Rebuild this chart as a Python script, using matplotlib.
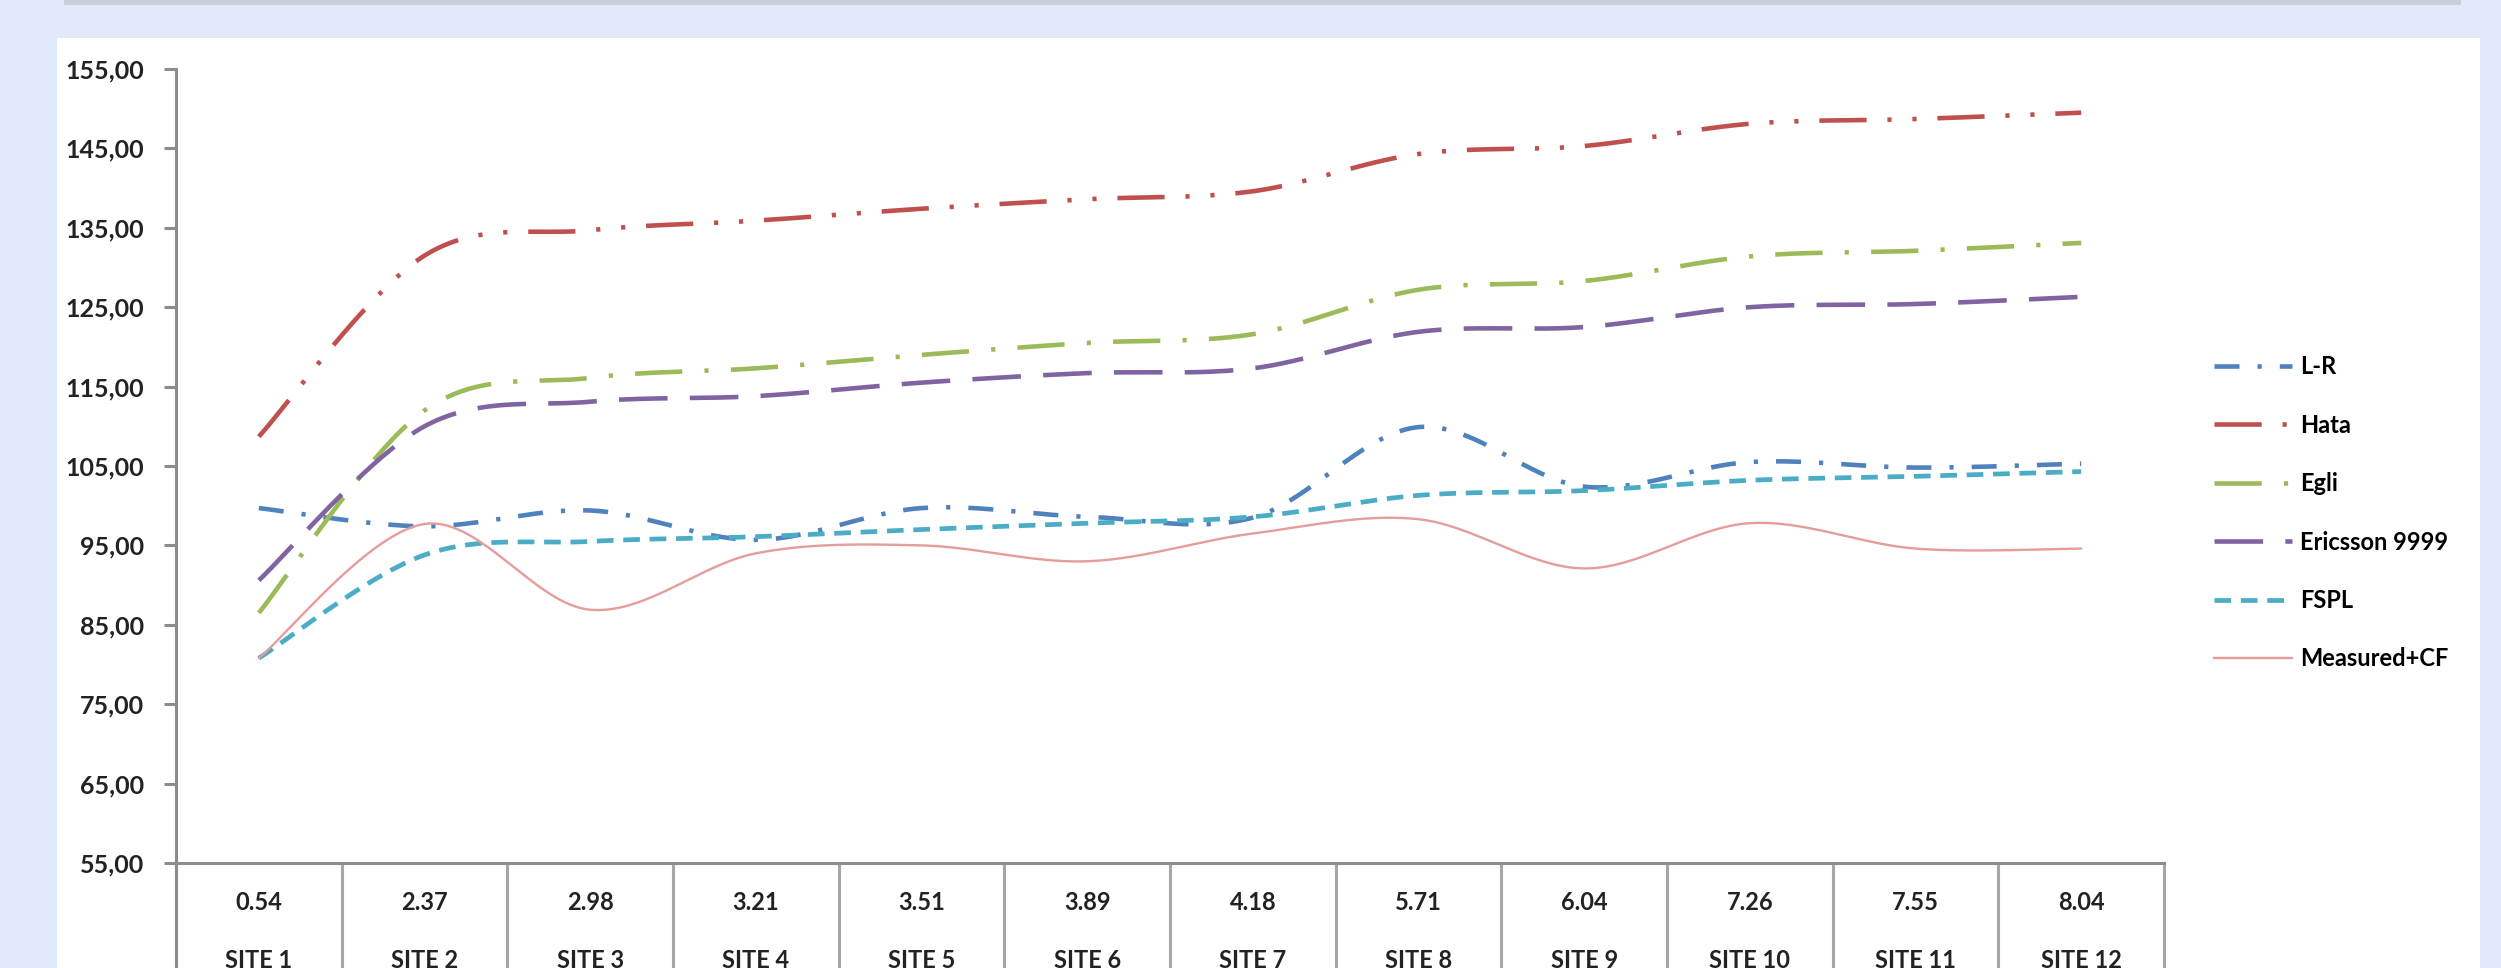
import numpy as np
import matplotlib
matplotlib.use("Agg")
import matplotlib.pyplot as plt
from matplotlib.lines import Line2D
from matplotlib.patches import Rectangle
import matplotlib.transforms as mtransforms

plt.rcParams['font.family'] = ['Lato', 'DejaVu Sans']
plt.rcParams['lines.scale_dashes'] = False

# data
distances = ["0.54", "2.37", "2.98", "3.21", "3.51", "3.89", "4.18", "5.71", "6.04", "7.26", "7.55", "8.04"]
sites = ["SITE 1", "SITE 2", "SITE 3", "SITE 4", "SITE 5", "SITE 6", "SITE 7", "SITE 8",
         "SITE 9", "SITE 10", "SITE 11", "SITE 12"]
lr = [99.7, 97.4, 99.4, 95.7, 99.7, 98.6, 98.5, 109.9, 102.4, 105.5, 104.8, 105.3]
hata = [108.7, 131.5, 134.7, 135.9, 137.4, 138.6, 139.6, 144.3, 145.3, 148.1, 148.7, 149.5]
egli = [86.5, 112.0, 116.1, 117.3, 119.0, 120.5, 121.6, 127.2, 128.3, 131.4, 132.1, 133.1]
ericsson = [90.6, 110.0, 113.1, 113.8, 115.5, 116.7, 117.3, 121.9, 122.5, 125.0, 125.4, 126.3]
fspl = [80.8, 93.8, 95.5, 96.1, 97.0, 97.8, 98.6, 101.3, 101.9, 103.2, 103.7, 104.3]
measured = [80.8, 97.7, 86.9, 94.0, 95.0, 93.0, 96.5, 98.3, 92.1, 97.8, 94.6, 94.6]
yticks = [55, 65, 75, 85, 95, 105, 115, 125, 135, 145, 155]


def smooth(vals, n=40):
    # excel style smoothed line (bezier through the points)
    pts = np.column_stack([np.arange(len(vals)) + 0.5, vals])
    P = np.vstack([pts[0], pts, pts[-1]])
    t = np.linspace(0, 1, n)[:, None]
    out = []
    for i in range(len(pts) - 1):
        p0, p1, p2, p3 = P[i], P[i+1], P[i+2], P[i+3]
        c1 = p1 + (p2 - p0) / 6
        c2 = p2 - (p3 - p1) / 6
        seg = (1-t)**3*p1 + 3*(1-t)**2*t*c1 + 3*(1-t)*t**2*c2 + t**3*p2
        out.append(seg if i == 0 else seg[1:])
    s = np.vstack(out)
    return s[:, 0], s[:, 1]


W, H = 2501, 968
fig = plt.figure(figsize=(W/100, H/100), dpi=100)
fig.patch.set_facecolor('#E1EAFB')
fig.patches.append(Rectangle((57/W, 0), (2480-57)/W, 1-38/H, transform=fig.transFigure,
                             facecolor='white', edgecolor='none', zorder=-10))
fig.patches.append(Rectangle((64/W, 1-5/H), (2461-64)/W, 5/H, transform=fig.transFigure,
                             facecolor='#C9CFD9', edgecolor='none', zorder=-10))

ax = fig.add_axes([176/W, (H-863)/H, (2164-176)/W, 794/H])
ax.set_facecolor('none')

series = [
    ("L-R", lr, '#4F81BD', (0, (18, 13, 3, 13)), 3.3),
    ("Hata", hata, '#C0504D', (0, (34, 15, 3, 15, 3, 15)), 3.3),
    ("Egli", egli, '#9BBB59', (0, (34, 16, 3, 16)), 3.3),
    ("Ericsson 9999", ericsson, '#8064A2', (0, (35, 16)), 3.3),
    ("FSPL", fspl, '#4BACC6', (0, (12, 7)), 3.4),
    ("Measured+CF", measured, '#E59C9A', '-', 1.7),
]
handles = []
for name, vals, col, ls, lw in series:
    sx, sy = smooth(vals)
    ax.plot(sx, sy, color=col, linestyle=ls, lw=lw, solid_capstyle='round')
    handles.append(Line2D([], [], color=col, linestyle=ls, lw=lw))

ax.set_xlim(0, 12)
ax.set_ylim(55, 155)
ax.set_yticks(yticks)
ax.set_yticklabels([f"{v},00" for v in yticks], fontsize=18, fontweight='bold', color='#222222')
ax.set_xticks([])
for s in ['top', 'right']:
    ax.spines[s].set_visible(False)
for s in ['left', 'bottom']:
    ax.spines[s].set_color('#8C8C8C')
    ax.spines[s].set_linewidth(2.2)
ax.tick_params(axis='y', direction='out', length=9, width=2.2, color='#8C8C8C', pad=14)

# category boxes under the axis
trans = mtransforms.blended_transform_factory(ax.transData, ax.transAxes)
low = -(H - 863) / 794
for i in range(13):
    ax.plot([i, i], [0, low], transform=trans, color='#A6A6A6', lw=2.2, clip_on=False)
ax.plot([0, 0], [0, low], transform=trans, color='#8C8C8C', lw=2.2, clip_on=False)
for i in range(12):
    ax.text(i + 0.5, -(903 - 863) / 794, distances[i], transform=trans, ha='center', va='center',
            fontsize=17, fontweight='bold', color='#222222')
    ax.text(i + 0.5, -(961 - 863) / 794, sites[i], transform=trans, ha='center', va='center',
            fontsize=17, fontweight='bold', color='#222222')

fig.legend(handles, [s[0] for s in series], loc='upper left',
           bbox_to_anchor=(2193/W, 1 - 334/H), frameon=False,
           handlelength=3.3, handletextpad=0.35, labelspacing=1.5,
           prop={'weight': 'bold', 'size': 17})

fig.savefig("out.png", dpi=100, facecolor=fig.get_facecolor())
